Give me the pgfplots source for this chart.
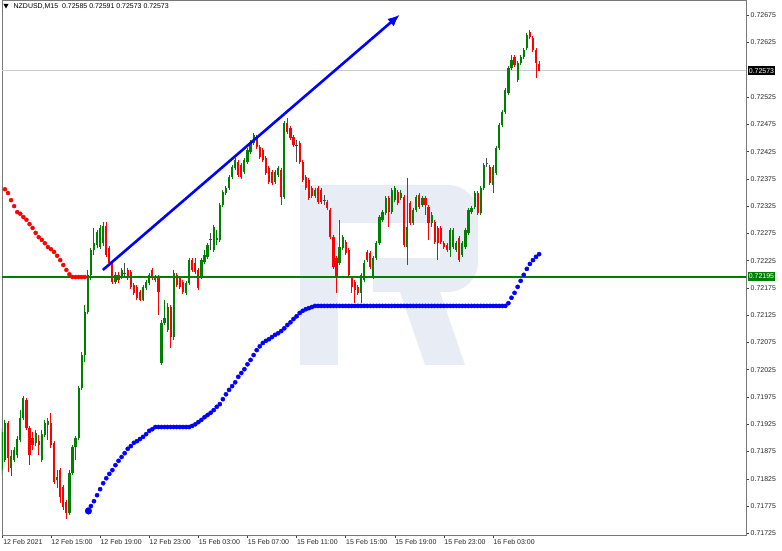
\documentclass[border=0pt]{standalone}
\usepackage{fontspec}
\setmainfont{Liberation Sans}
\usepackage{pgfplots}
\pgfplotsset{compat=1.18}
\usepackage{pgfplotstable}
\usetikzlibrary{arrows.meta}
\definecolor{bull}{RGB}{0,128,0}
\definecolor{bear}{RGB}{255,0,0}
\definecolor{sarblue}{RGB}{0,0,255}
\definecolor{wm}{RGB}{232,236,244}
\definecolor{framec}{RGB}{120,120,120}
\definecolor{hline}{RGB}{205,205,205}

\pgfplotstableread{
i o h l c
-16 0.71841 0.71918 0.71832 0.71911
-15 0.71859 0.71933 0.71856 0.71927
-13 0.71845 0.71878 0.71830 0.71867
-12 0.71859 0.71883 0.71856 0.71878
-11 0.71869 0.71903 0.71863 0.71898
-10 0.71896 0.71951 0.71892 0.71936
-9 0.71936 0.71977 0.71933 0.71973
-5 0.71891 0.71914 0.71885 0.71909
-3 0.71859 0.71914 0.71856 0.71907
-2 0.71905 0.71933 0.71902 0.71927
-1 0.71924 0.71936 0.71896 0.71931
2 0.71823 0.71841 0.71808 0.71828
6 0.71762 0.71841 0.71758 0.71836
7 0.71836 0.71887 0.71832 0.71883
8 0.71883 0.71903 0.71859 0.71900
9 0.71900 0.71995 0.71896 0.71991
10 0.71991 0.72057 0.71988 0.72052
11 0.72052 0.72144 0.72039 0.72131
12 0.72131 0.72208 0.72127 0.72199
13 0.72199 0.72248 0.72190 0.72245
14 0.72245 0.72285 0.72235 0.72257
15 0.72254 0.72282 0.72248 0.72278
16 0.72250 0.72290 0.72246 0.72285
17 0.72257 0.72296 0.72252 0.72289
21 0.72186 0.72204 0.72182 0.72199
23 0.72195 0.72212 0.72191 0.72208
30 0.72153 0.72180 0.72151 0.72177
31 0.72175 0.72190 0.72171 0.72186
32 0.72184 0.72202 0.72180 0.72199
34 0.72190 0.72199 0.72186 0.72195
36 0.72037 0.72116 0.72034 0.72111
37 0.72111 0.72153 0.72107 0.72120
38 0.72098 0.72147 0.72094 0.72140
40 0.72085 0.72208 0.72079 0.72202
44 0.72166 0.72188 0.72162 0.72184
45 0.72184 0.72230 0.72180 0.72226
49 0.72195 0.72230 0.72191 0.72226
50 0.72223 0.72245 0.72219 0.72235
51 0.72232 0.72257 0.72228 0.72254
53 0.72245 0.72290 0.72241 0.72287
54 0.72263 0.72282 0.72254 0.72267
55 0.72263 0.72331 0.72259 0.72327
56 0.72327 0.72355 0.72323 0.72351
57 0.72349 0.72362 0.72345 0.72358
58 0.72358 0.72382 0.72355 0.72378
59 0.72378 0.72400 0.72375 0.72397
60 0.72395 0.72413 0.72391 0.72410
63 0.72388 0.72413 0.72384 0.72410
64 0.72406 0.72432 0.72402 0.72428
65 0.72424 0.72446 0.72421 0.72443
66 0.72441 0.72459 0.72437 0.72455
73 0.72369 0.72391 0.72366 0.72388
74 0.72382 0.72399 0.72378 0.72395
76 0.72342 0.72481 0.72338 0.72477
86 0.72344 0.72358 0.72340 0.72355
94 0.72221 0.72300 0.72217 0.72250
95 0.72248 0.72272 0.72245 0.72268
101 0.72166 0.72202 0.72147 0.72199
102 0.72190 0.72226 0.72186 0.72221
105 0.72195 0.72234 0.72191 0.72230
106 0.72230 0.72261 0.72226 0.72257
107 0.72257 0.72309 0.72254 0.72305
108 0.72300 0.72318 0.72296 0.72314
109 0.72312 0.72344 0.72309 0.72340
111 0.72314 0.72358 0.72311 0.72355
112 0.72336 0.72362 0.72333 0.72358
114 0.72340 0.72355 0.72336 0.72349
116 0.72250 0.72377 0.72217 0.72287
118 0.72294 0.72322 0.72290 0.72318
119 0.72318 0.72345 0.72314 0.72342
121 0.72327 0.72344 0.72323 0.72340
124 0.72294 0.72314 0.72287 0.72309
130 0.72245 0.72285 0.72232 0.72282
131 0.72250 0.72285 0.72246 0.72282
132 0.72245 0.72261 0.72241 0.72257
134 0.72235 0.72261 0.72232 0.72257
135 0.72250 0.72285 0.72246 0.72282
136 0.72276 0.72322 0.72272 0.72318
137 0.72314 0.72325 0.72311 0.72322
138 0.72323 0.72353 0.72320 0.72349
140 0.72312 0.72362 0.72309 0.72358
141 0.72358 0.72404 0.72355 0.72400
144 0.72364 0.72400 0.72349 0.72397
145 0.72386 0.72435 0.72382 0.72432
146 0.72432 0.72477 0.72428 0.72474
147 0.72474 0.72501 0.72470 0.72498
148 0.72498 0.72542 0.72494 0.72538
149 0.72532 0.72582 0.72529 0.72578
150 0.72578 0.72602 0.72575 0.72593
152 0.72556 0.72591 0.72553 0.72587
153 0.72587 0.72602 0.72584 0.72598
154 0.72598 0.72615 0.72595 0.72611
155 0.72615 0.72642 0.72611 0.72639
}\bullt

\pgfplotstableread{
i o h l c
-14 0.71927 0.71931 0.71837 0.71863
-8 0.71969 0.71973 0.71914 0.71918
-7 0.71918 0.71922 0.71850 0.71869
-6 0.71900 0.71911 0.71878 0.71887
-4 0.71894 0.71905 0.71869 0.71887
0 0.71927 0.71946 0.71881 0.71887
1 0.71891 0.71894 0.71815 0.71819
3 0.71841 0.71845 0.71780 0.71792
4 0.71810 0.71814 0.71768 0.71773
5 0.71782 0.71786 0.71751 0.71762
18 0.72289 0.72296 0.72232 0.72235
19 0.72248 0.72252 0.72217 0.72221
20 0.72221 0.72223 0.72182 0.72186
22 0.72199 0.72204 0.72184 0.72190
25 0.72208 0.72212 0.72190 0.72193
26 0.72204 0.72208 0.72173 0.72177
27 0.72180 0.72184 0.72162 0.72166
28 0.72177 0.72180 0.72153 0.72157
29 0.72168 0.72171 0.72151 0.72153
33 0.72208 0.72212 0.72190 0.72193
35 0.72195 0.72199 0.72125 0.72168
39 0.72140 0.72144 0.72065 0.72085
41 0.72199 0.72202 0.72177 0.72180
42 0.72193 0.72197 0.72173 0.72177
43 0.72186 0.72190 0.72164 0.72168
46 0.72226 0.72230 0.72204 0.72208
47 0.72221 0.72230 0.72200 0.72204
48 0.72208 0.72212 0.72171 0.72175
61 0.72406 0.72410 0.72378 0.72382
62 0.72400 0.72404 0.72375 0.72378
67 0.72452 0.72455 0.72430 0.72433
68 0.72433 0.72437 0.72411 0.72415
69 0.72428 0.72432 0.72406 0.72410
70 0.72413 0.72417 0.72382 0.72386
71 0.72395 0.72399 0.72366 0.72369
72 0.72388 0.72391 0.72364 0.72367
75 0.72391 0.72395 0.72327 0.72342
77 0.72477 0.72487 0.72457 0.72461
78 0.72468 0.72472 0.72446 0.72450
79 0.72452 0.72455 0.72433 0.72437
81 0.72441 0.72444 0.72402 0.72406
82 0.72406 0.72410 0.72369 0.72373
83 0.72378 0.72382 0.72355 0.72358
84 0.72373 0.72377 0.72336 0.72340
85 0.72358 0.72362 0.72340 0.72344
87 0.72358 0.72362 0.72329 0.72333
88 0.72355 0.72358 0.72329 0.72333
90 0.72333 0.72336 0.72318 0.72322
91 0.72318 0.72322 0.72265 0.72268
92 0.72268 0.72272 0.72210 0.72213
93 0.72230 0.72234 0.72166 0.72195
96 0.72259 0.72263 0.72235 0.72239
97 0.72245 0.72248 0.72193 0.72199
98 0.72193 0.72197 0.72166 0.72177
99 0.72186 0.72190 0.72147 0.72171
100 0.72177 0.72180 0.72162 0.72166
103 0.72241 0.72245 0.72223 0.72226
104 0.72239 0.72243 0.72210 0.72213
110 0.72340 0.72344 0.72287 0.72314
113 0.72351 0.72355 0.72327 0.72331
115 0.72342 0.72345 0.72250 0.72254
117 0.72331 0.72334 0.72290 0.72294
120 0.72345 0.72349 0.72320 0.72323
122 0.72340 0.72344 0.72309 0.72327
123 0.72323 0.72327 0.72263 0.72294
125 0.72296 0.72300 0.72256 0.72259
126 0.72285 0.72289 0.72226 0.72257
127 0.72285 0.72289 0.72256 0.72259
128 0.72257 0.72261 0.72246 0.72250
129 0.72254 0.72257 0.72241 0.72245
133 0.72267 0.72270 0.72223 0.72226
139 0.72349 0.72353 0.72309 0.72312
143 0.72397 0.72400 0.72364 0.72367
151 0.72598 0.72602 0.72580 0.72584
156 0.72644 0.72648 0.72631 0.72635
157 0.72633 0.72637 0.72608 0.72611
158 0.72611 0.72615 0.72560 0.72587
159 0.72585 0.72591 0.72573 0.72573
}\beart

\pgfplotstableread{
i o h l c
24 0.72202 0.72221 0.72197 0.72202
52 0.72263 0.72276 0.72245 0.72263
80 0.72437 0.72446 0.72406 0.72437
89 0.72336 0.72345 0.72327 0.72336
142 0.72404 0.72413 0.72397 0.72404
}\dojit

\pgfplotsset{
  candle/.style 2 args={draw=none, mark=none, forget plot,
    error bars/.cd, y dir=plus, y explicit, error mark=none,
    error bar style={draw=#1, line width=#2, solid}},
}

\begin{document}
\begin{tikzpicture}
\path[use as bounding box] (0,0) rectangle (782bp,551bp);
% watermark logo
\begin{scope}[x=1bp,y=-1bp,shift={(0bp,551bp)}]
\fill[wm] (300,185) rectangle (338,365);
\fill[wm] (300,185) -- (450,185) [rounded corners=30bp] -- (478,185) -- (478,292) [sharp corners] -- (373,292) -- (373,258) -- (440,258) -- (440,223) -- (300,223) -- cycle;
\fill[wm] (400,292) -- (440,292) -- (465,365) -- (425,365) -- cycle;
\end{scope}
\begin{axis}[
  at={(2bp,16bp)}, anchor=south west,
  scale only axis, width=744bp, height=535bp,
  xmin=-15.96, xmax=226.4, ymin=0.71722, ymax=0.72703,
  axis line style={draw=framec, line width=0.8bp},
  tick align=outside,
  xtick pos=left, ytick pos=right, yticklabel pos=right,
  major tick length=3bp,
  tick style={draw=black!75, line width=0.6bp},
  xtick={-15.7,0,16,32,48,64,80,96,112,128,144},
  xticklabels={12 Feb 2021,12 Feb 15:00,12 Feb 19:00,12 Feb 23:00,15 Feb 03:00,15 Feb 07:00,15 Feb 11:00,15 Feb 15:00,15 Feb 19:00,15 Feb 23:00,16 Feb 03:00},
  ytick={0.71725,0.71775,0.71825,0.71875,0.71925,0.71975,0.72025,0.72075,0.72125,0.72175,0.72225,0.72275,0.72325,0.72375,0.72425,0.72475,0.72525,0.72625,0.72675},
  scaled y ticks=false,
  /pgf/number format/assume math mode=true,
  yticklabel style={/pgf/number format/fixed, /pgf/number format/fixed zerofill, /pgf/number format/precision=5, /pgf/number format/1000 sep={}, anchor=west, inner sep=0pt, xshift=1.5bp},
  ticklabel style={font=\fontsize{7}{8}\selectfont, text=black!85},
  xticklabel style={anchor=north west, inner sep=0pt, xshift=0.3bp, yshift=-1bp},
  clip=true,
]
% grey current-price line (behind)
\addplot[hline, line width=0.9bp, forget plot] coordinates {(-16,0.72573) (227,0.72573)};
% wicks
\addplot[candle={bull}{1bp}] table[x=i, y=l, y error plus expr=\thisrow{h}-\thisrow{l}] {\bullt};
\addplot[candle={bear}{1bp}] table[x=i, y=l, y error plus expr=\thisrow{h}-\thisrow{l}] {\beart};
\addplot[candle={black!70}{1bp}] table[x=i, y=l, y error plus expr=\thisrow{h}-\thisrow{l}] {\dojit};
% bodies
\addplot[candle={bull}{2.2bp}] table[x=i, y=o, y error plus expr=\thisrow{c}-\thisrow{o}] {\bullt};
\addplot[candle={bear}{2.2bp}] table[x=i, y=c, y error plus expr=\thisrow{o}-\thisrow{c}] {\beart};
\addplot[black!70, only marks, mark=-, mark size=1.4bp, mark options={black!70, line width=1bp}, forget plot] table[x=i, y=o] {\dojit};
% red SAR
\addplot[bear, only marks, mark=*, mark size=2bp, mark options={fill=bear, draw=none}, forget plot] coordinates {
(-16,0.72366)(-15,0.72356)(-14,0.72349)(-13,0.72336)(-12,0.72325)(-11,0.72314)(-10,0.72311)(-9,0.72305)(-8,0.72300)(-7,0.72292)(-6,0.72285)(-5,0.72276)(-4,0.72268)(-3,0.72263)(-2,0.72257)(-1,0.72250)(0,0.72246)(1,0.72241)(2,0.72234)(3,0.72226)(4,0.72217)(5,0.72208)(6,0.72200)(7,0.72195)(8,0.72195)(9,0.72195)(10,0.72195)(11,0.72195)};
% blue SAR
\addplot[sarblue, only marks, mark=*, mark size=2.1bp, mark options={fill=sarblue, draw=none}, forget plot] coordinates {
(12,0.71768)(13,0.71775)(14,0.71784)(15,0.71795)(16,0.71806)(17,0.71817)(18,0.71826)(19,0.71834)(20,0.71841)(21,0.71850)(22,0.71858)(23,0.71865)(24,0.71872)(25,0.71880)(26,0.71885)(27,0.71891)(28,0.71894)(29,0.71898)(30,0.71902)(31,0.71907)(32,0.71913)(33,0.71916)(34,0.71920)
(35,0.71920)(36,0.71920)(37,0.71920)(38,0.71920)(39,0.71920)(40,0.71920)(41,0.71920)(42,0.71920)(43,0.71920)(44,0.71920)(45,0.71920)
(46,0.71922)(47,0.71925)(48,0.71929)(49,0.71933)(50,0.71938)(51,0.71942)(52,0.71946)(53,0.71951)(54,0.71957)(55,0.71962)(56,0.71971)(57,0.71980)(58,0.71988)(59,0.71995)(60,0.72002)(61,0.72012)(62,0.72019)(63,0.72026)(64,0.72035)(65,0.72043)(66,0.72052)(67,0.72061)(68,0.72068)(69,0.72074)(70,0.72078)(71,0.72081)(72,0.72085)(73,0.72089)(74,0.72092)(75,0.72096)(76,0.72101)(77,0.72107)(78,0.72112)(79,0.72118)(80,0.72123)(81,0.72129)(82,0.72133)(83,0.72136)(84,0.72138)(85,0.72140)(86,0.72142)
(87,0.72142)(88,0.72142)(89,0.72142)(90,0.72142)(91,0.72142)(92,0.72142)(93,0.72142)(94,0.72142)(95,0.72142)(96,0.72142)(97,0.72142)(98,0.72142)(99,0.72142)(100,0.72142)(101,0.72142)(102,0.72142)(103,0.72142)(104,0.72142)(105,0.72142)(106,0.72142)(107,0.72142)(108,0.72142)(109,0.72142)(110,0.72142)(111,0.72142)(112,0.72142)(113,0.72142)(114,0.72142)(115,0.72142)(116,0.72142)(117,0.72142)(118,0.72142)(119,0.72142)(120,0.72142)(121,0.72142)(122,0.72142)(123,0.72142)(124,0.72142)(125,0.72142)(126,0.72142)(127,0.72142)(128,0.72142)(129,0.72142)(130,0.72142)(131,0.72142)(132,0.72142)(133,0.72142)(134,0.72142)(135,0.72142)(136,0.72142)(137,0.72142)(138,0.72142)(139,0.72142)(140,0.72142)(141,0.72142)(142,0.72142)(143,0.72142)(144,0.72142)(145,0.72142)(146,0.72142)(147,0.72142)(148,0.72142)
(149,0.72147)(150,0.72157)(151,0.72166)(152,0.72177)(153,0.72188)(154,0.72199)(155,0.72210)(156,0.72219)(157,0.72226)(158,0.72232)(159,0.72237)};
\addplot[sarblue, only marks, mark=*, mark size=3.3bp, mark options={fill=sarblue, draw=none}, forget plot] coordinates {(12.2,0.71766)};
% green level line
\addplot[bull, line width=1.2bp, forget plot] coordinates {(-16,0.72195) (227,0.72195)};
% trend arrow
\addplot[sarblue, line width=2.6bp, -{Latex[length=12bp,width=10bp]}, forget plot] coordinates {(16.9,0.72208) (113.6,0.72676)};
\end{axis}
\begin{scope}[x=1bp,y=-1bp,shift={(0bp,551bp)}]
\fill[black] (3.5,4) -- (8.5,4) -- (6,8.5) -- cycle;
\node[anchor=west, inner sep=0pt, font=\fontsize{7}{8}\selectfont] at (13.5,6.5) {NZDUSD,M15\ \ 0.72585 0.72591 0.72573 0.72573};
\node[anchor=west, fill=black, text=white, inner sep=1.2bp, minimum height=9bp, font=\fontsize{7}{8}\selectfont] at (747.5,71) {0.72573};
\node[anchor=west, fill=bull, text=white, inner sep=1.2bp, minimum height=9bp, font=\fontsize{7}{8}\selectfont] at (747.5,276.5) {0.72195};
\end{scope}
\end{tikzpicture}
\end{document}
